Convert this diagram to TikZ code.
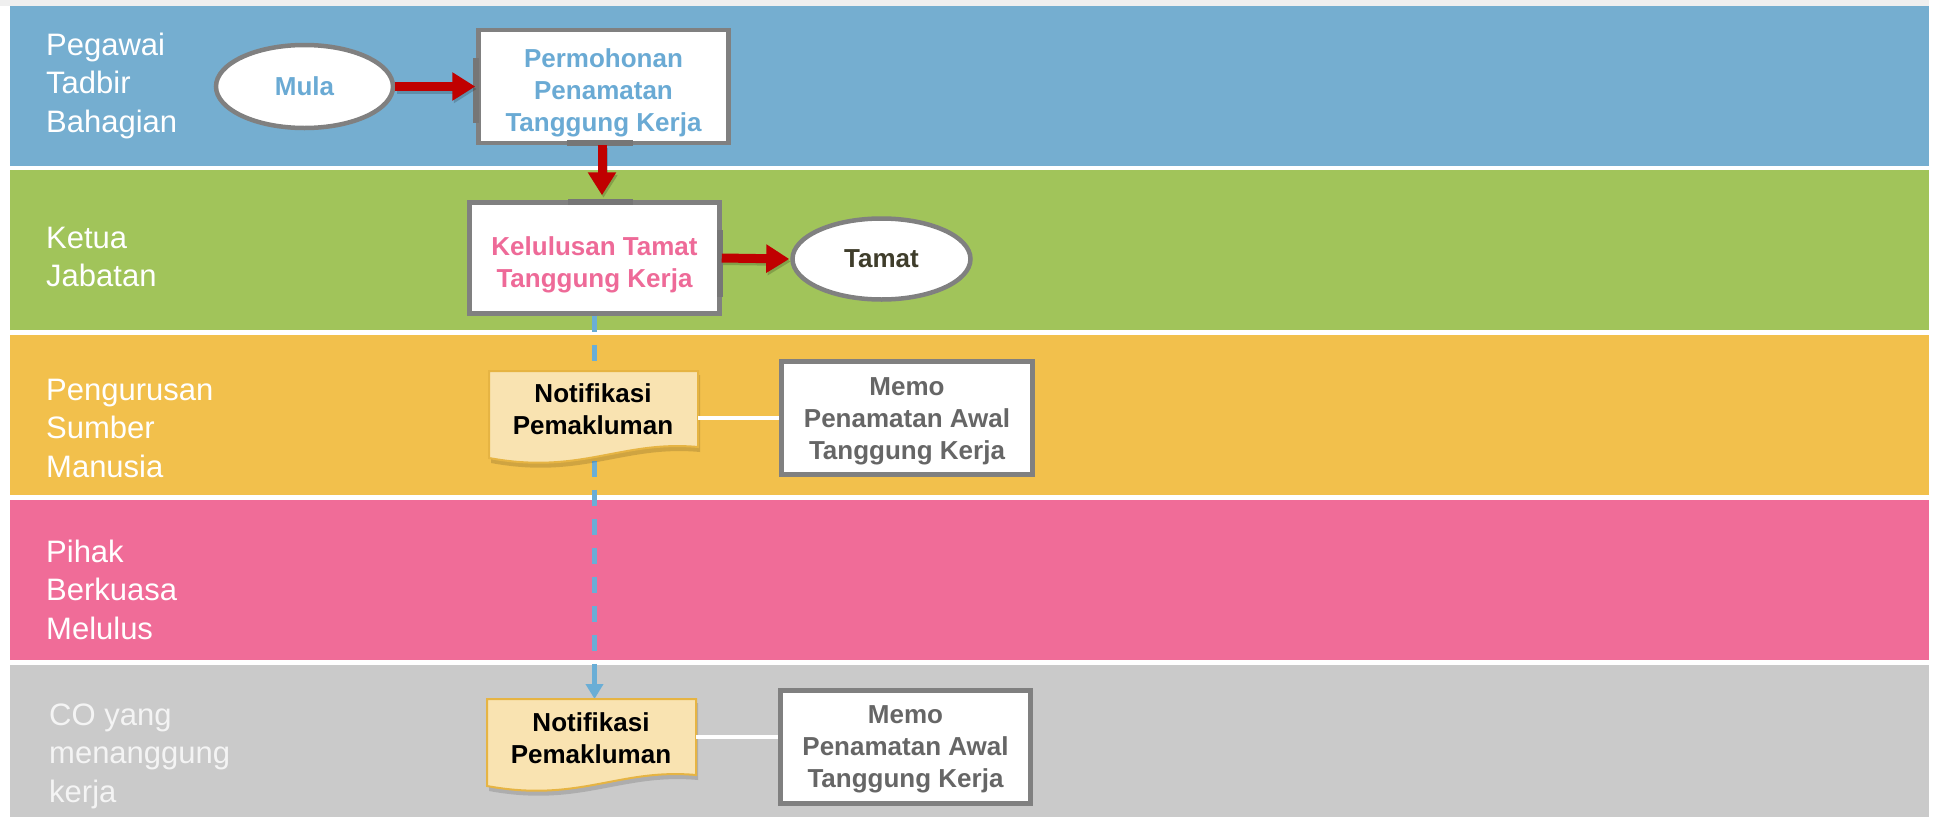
\documentclass[tikz,border=0pt]{standalone}
\usepackage{fontspec}
\setmainfont{Liberation Sans}
\usetikzlibrary{arrows.meta,shapes.geometric}
\definecolor{topgray}{HTML}{EFEFEF}
\definecolor{laneblue}{HTML}{75AED0}
\definecolor{lanegreen}{HTML}{A1C45A}
\definecolor{laneorange}{HTML}{F2C04C}
\definecolor{lanepink}{HTML}{F06C98}
\definecolor{lanegray}{HTML}{CACACA}
\definecolor{boxgray}{HTML}{808080}
\definecolor{arrowred}{HTML}{C00000}
\definecolor{txtblue}{HTML}{6AAAD4}
\definecolor{txtpink}{HTML}{EE6A98}
\definecolor{txtolive}{HTML}{3F3D2B}
\definecolor{memogray}{HTML}{666666}
\definecolor{docfill}{HTML}{F9E3B1}
\definecolor{docline}{HTML}{E6B443}
\definecolor{dashblue}{HTML}{6AAED6}
\definecolor{offwhite}{HTML}{F4F4F4}
\newcommand{\mylines}[2][c]{\begin{tabular}[t]{@{}#1@{}}#2\end{tabular}}
\begin{document}
\begin{tikzpicture}[x=1pt,y=-1pt,
  lanetxt/.style={anchor=base west, inner sep=0pt, text=white, font=\fontsize{31}{38.5}\selectfont},
  boxtxt/.style={anchor=base, inner sep=0pt, font=\bfseries\fontsize{26}{32}\selectfont},
  procbox/.style={rectangle, draw=boxgray, line width=4.5pt, fill=white, inner sep=0pt},
  term/.style={ellipse, draw=boxgray, line width=4.5pt, fill=white, inner sep=0pt, font=\bfseries\fontsize{26}{31}\selectfont},
  docbox/.style={rectangle, inner sep=0pt, minimum width=209pt, minimum height=76pt, anchor=north west},
  redarrow/.style={draw=arrowred, line width=9pt, -{Triangle[width=27pt,length=23pt]}},
  redshadow/.style={draw=black, opacity=0.18, line width=9pt, -{Triangle[width=27pt,length=23pt]}, transform canvas={xshift=1.5pt,yshift=-2.5pt}},
  bluedash/.style={draw=dashblue, line width=4.5pt, dash pattern=on 16pt off 13pt},
  bluearrow/.style={draw=dashblue, line width=4.5pt, -{Triangle[width=17pt,length=15pt]}},
  whiteline/.style={draw=white, line width=4pt},
  site/.style={draw=boxgray!92!black, line width=5.5pt}
]
\useasboundingbox (0,0) rectangle (1933,817);
\fill[white] (0,0) rectangle (1933,817);
\fill[topgray] (0,0) rectangle (1929,6);
% lanes
\fill[laneblue]   (10,6)   rectangle (1929,166);
\fill[lanegreen]  (10,170) rectangle (1929,330);
\fill[laneorange] (10,335) rectangle (1929,495);
\fill[lanepink]   (10,500) rectangle (1929,660);
\fill[lanegray]   (10,665) rectangle (1929,817);
% lane labels
\node[lanetxt] (l1) at (46,55)  {\mylines[l]{Pegawai\\Tadbir\\Bahagian}};
\node[lanetxt] (l2) at (46,248) {\mylines[l]{Ketua\\Jabatan}};
\node[lanetxt] (l3) at (46,400) {\mylines[l]{Pengurusan\\Sumber\\Manusia}};
\node[lanetxt] (l4) at (46,562) {\mylines[l]{Pihak\\Berkuasa\\Melulus}};
\node[lanetxt, text=offwhite] (l5) at (49,725) {\mylines[l]{CO yang\\menanggung\\kerja}};
% main nodes
\node[term, text=txtblue, minimum width=177pt, minimum height=83pt] (mula) at (304.5,86.5) {Mula};
\node[procbox, minimum width=250pt, minimum height=113pt] (perm) at (603.5,86.5) {};
\node[boxtxt, text=txtblue] (permt) at (603.5,67) {\mylines{Permohonan\\Penamatan\\Tanggung Kerja}};
\node[procbox, minimum width=250pt, minimum height=111pt] (kel) at (594.5,258) {};
\node[boxtxt, text=txtpink] (kelt) at (594.5,255) {\mylines{Kelulusan Tamat\\Tanggung Kerja}};
\node[term, text=txtolive, minimum width=178pt, minimum height=81pt] (tamat) at (881.5,259) {Tamat};
% document shapes anchors
\node[docbox] (doc1) at (489,371) {};
\node[docbox] (doc2) at (487,699) {};
\coordinate (dtop) at (kel.south |- doc2.north);
\coordinate (dend) at (594.5,682);
\coordinate (dhead) at (594.5,670);
\coordinate (downx) at (602,0);
% dashed connector (behind documents)
\draw[bluedash] (kel.south) -- (dend);
\draw[bluearrow] (dhead) -- (dtop);
% document shapes
\foreach \d in {doc1,doc2}{
  \begin{scope}[shift={(\d.north west)}]
    \fill[black, opacity=0.14] (2,4) -- (211,4) -- (211,81) .. controls (134,74) and (94,109) .. (2,92) -- cycle;
    \draw[docline, line width=2pt, fill=docfill] (0,0) -- (209,0) -- (209,76) .. controls (132,69) and (92,104) .. (0,87) -- cycle;
  \end{scope}
}
\node[boxtxt, text=black] (doc1t) at (593,402) {\mylines{Notifikasi\\Pemakluman}};
\node[boxtxt, text=black] (doc2t) at (591,731) {\mylines{Notifikasi\\Pemakluman}};
% memo boxes
\node[procbox, minimum width=251pt, minimum height=113pt] (memo1) at (907,418) {};
\node[boxtxt, text=memogray] (memo1t) at (907,395) {\mylines{Memo\\Penamatan Awal\\Tanggung Kerja}};
\node[procbox, minimum width=250pt, minimum height=113pt] (memo2) at (905.5,747) {};
\node[boxtxt, text=memogray] (memo2t) at (905.5,723) {\mylines{Memo\\Penamatan Awal\\Tanggung Kerja}};
% connection-site marks
\draw[site] (476,58) -- (476,123);
\draw[site] (567,143) -- (633,143);
\draw[site] (568,202) -- (633,202);
\draw[site] (720,230) -- (720,297);
% connectors (with soft shadow)
\draw[redshadow, shorten >=1pt] (mula.east) -- (perm.west);
\draw[redshadow, shorten >=5pt] (perm.south -| downx) -- (kel.north -| downx);
\draw[redshadow, shorten >=1pt] (kel.east) -- (tamat.west);
\draw[redarrow, shorten >=1pt] (mula.east) -- (perm.west);
\draw[redarrow, shorten >=5pt] (perm.south -| downx) -- (kel.north -| downx);
\draw[redarrow, shorten >=1pt] (kel.east) -- (tamat.west);
\draw[whiteline] (doc1.east |- memo1.west) -- (memo1.west);
\draw[whiteline] (doc2.east) -- (doc2.east -| memo2.west);
\end{tikzpicture}
\end{document}
